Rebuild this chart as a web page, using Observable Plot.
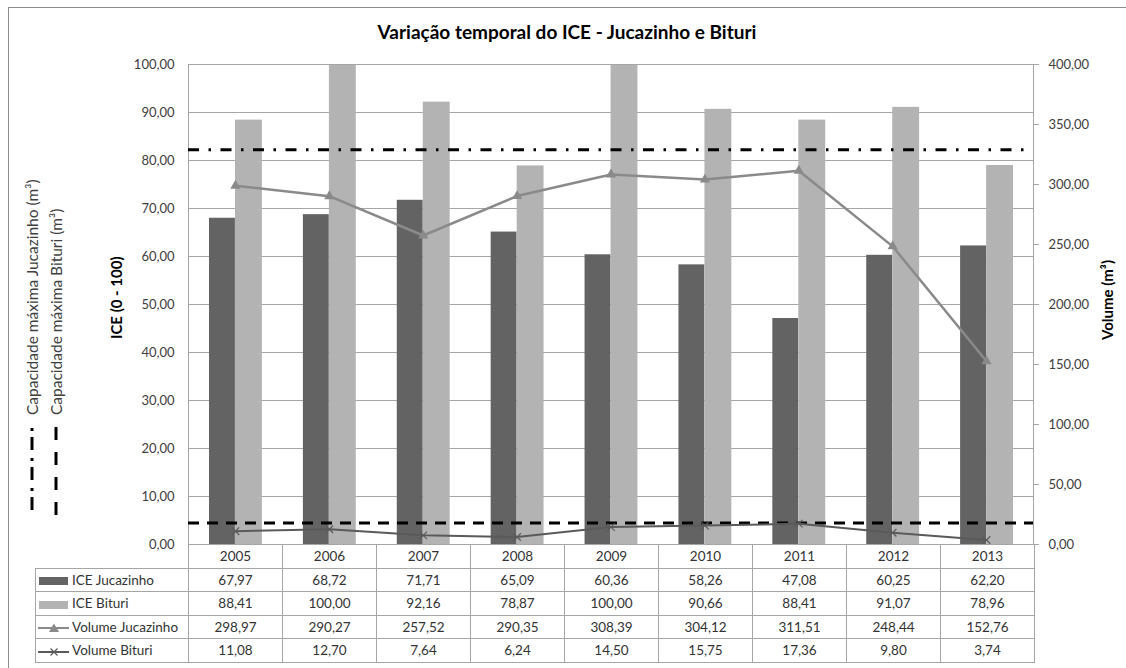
<!DOCTYPE html>
<html><head><meta charset="utf-8">
<script src="https://cdn.jsdelivr.net/npm/d3@7"></script>
<script src="https://cdn.jsdelivr.net/npm/@observablehq/plot@0.6"></script>
<style>
body{margin:0;background:#fff;font-family:Lato,sans-serif;color:#404040}
#wrap{position:relative;width:1126px;height:668px;overflow:hidden;background:#fff}
#frame{position:absolute;left:8px;top:7px;width:1200px;height:800px;border-top:1px solid #8c8c8c;border-left:1px solid #8c8c8c}
#chart{position:absolute;left:0;top:0}
#title{position:absolute;left:0;width:1134px;top:20px;text-align:center;font-weight:bold;font-size:19px;color:#000}
.rot{position:absolute;transform-origin:0 0;transform:rotate(-90deg);white-space:nowrap;display:flex;align-items:center}
.atitle{font-weight:bold;font-size:15px;color:#000;height:18px;line-height:18px}
.leg{font-size:15.5px;color:#404040;height:18px;line-height:18px}
#tbl{position:absolute;left:35px;top:544px;border-collapse:collapse;table-layout:fixed;font-size:13.5px;color:#333}
#tbl td{border:1px solid #a6a6a6;padding:0;height:22.5px;text-align:center;white-space:nowrap}
#tbl td.lab{text-align:left;padding-left:2px}
#tbl td.blank{border:none}
#tbl td.lab svg{vertical-align:middle;margin-right:3px}
</style></head><body>
<div id="wrap"><div id="frame"></div></div>
<script>
const years = ["2005","2006","2007","2008","2009","2010","2011","2012","2013"];
const iceJucazinho = [67.97,68.72,71.71,65.09,60.36,58.26,47.08,60.25,62.20];
const iceBituri = [88.41,100.00,92.16,78.87,100.00,90.66,88.41,91.07,78.96];
const volumeJucazinho = [298.97,290.27,257.52,290.35,308.39,304.12,311.51,248.44,152.76];
const volumeBituri = [11.08,12.70,7.64,6.24,14.50,15.75,17.36,9.80,3.74];
const capacidadeJucazinho = [329];
const capacidadeBituri = [18];
const iceTicks = [0,10,20,30,40,50,60,70,80,90,100];
const volumeTicks = [0,50,100,150,200,250,300,350,400];
const seriesNames = ["ICE Jucazinho","ICE Bituri","Volume Jucazinho","Volume Bituri"];

const locale = d3.formatLocale({decimal:",", thousands:".", grouping:[3], currency:["",""]});
const fmt = locale.format(".2f");
const volToIce = v => v / 4;

const rows = years.map((year, i) => ({year, iceJ: iceJucazinho[i], iceB: iceBituri[i], volJ: volumeJucazinho[i], volB: volumeBituri[i]}));

const C = {dark:"#636363", light:"#b3b3b3", volJ:"#8a8a8a", volB:"#5a5a5a", grid:"#a6a6a6"};

const chart = Plot.plot({
  width: 1126, height: 560,
  marginLeft: 188, marginRight: 93, marginTop: 64, marginBottom: 16,
  style: {fontFamily: "Lato, sans-serif", fontSize: "13px", color: "#404040", background: "transparent"},
  x: {type: "band", domain: years, padding: 0, round: false, axis: null},
  y: {domain: [0, 100], axis: null},
  marks: [
    Plot.gridY(iceTicks, {stroke: C.grid, strokeOpacity: 1}),
    Plot.barY(rows, {x: "year", y: "iceJ", fill: C.dark, insetLeft: 21, insetRight: 47}),
    Plot.barY(rows, {x: "year", y: "iceB", fill: C.light, insetLeft: 47, insetRight: 20}),
    Plot.frame({stroke: C.grid}),
    Plot.axisY(iceTicks, {anchor: "left", tickSize: 0, tickPadding: 14, tickFormat: fmt, label: null}),
    Plot.axisY(volumeTicks, {y: volToIce, anchor: "right", tickSize: 5, tickPadding: 10, tickFormat: fmt, label: null, stroke: C.grid}),
    Plot.ruleY(capacidadeJucazinho, {y: volToIce, stroke: "#000", strokeWidth: 3, strokeDasharray: "11,9.5,2.5,9.5"}),
    Plot.ruleY(capacidadeBituri, {y: volToIce, stroke: "#000", strokeWidth: 3, strokeDasharray: "11,8"}),
    Plot.line(rows, {x: "year", y: d => volToIce(d.volJ), stroke: C.volJ, strokeWidth: 2.5}),
    Plot.dot(rows, {x: "year", y: d => volToIce(d.volJ), symbol: "triangle", r: 3.8, fill: C.volJ, stroke: "none"}),
    Plot.line(rows, {x: "year", y: d => volToIce(d.volB), stroke: C.volB, strokeWidth: 2}),
    Plot.dot(rows, {x: "year", y: d => volToIce(d.volB), symbol: "times", r: 3.5, stroke: C.volB, strokeWidth: 1.2})
  ]
});
chart.id = "chart";
const wrap = document.getElementById("wrap");
wrap.appendChild(chart);

const title = document.createElement("div");
title.id = "title";
title.textContent = "Variação temporal do ICE - Jucazinho e Bituri";
wrap.appendChild(title);

function rotated(html, cls, centerX, bottomY) {
  const d = document.createElement("div");
  d.className = "rot " + cls;
  d.innerHTML = html;
  d.style.left = (centerX - 9) + "px";
  d.style.top = bottomY + "px";
  wrap.appendChild(d);
  return d;
}
function rotatedCentered(text, cls, centerX, centerY) {
  const d = rotated(text, cls, centerX, 0);
  const w = d.getBoundingClientRect().height;
  d.style.top = (centerY + w / 2) + "px";
}
rotatedCentered("ICE (0 - 100)", "atitle", 116, 298);
rotatedCentered("Volume (m³)", "atitle", 1107, 300);

const keyJ = `<svg width="96" height="16" style="flex:none"><line x1="1" x2="86" y1="8" y2="8" stroke="#000" stroke-width="3" stroke-dasharray="13,6,3,8"/></svg>`;
const keyB = `<svg width="100" height="16" style="flex:none"><line x1="0" x2="90" y1="8" y2="8" stroke="#000" stroke-width="3" stroke-dasharray="13,12"/></svg>`;
rotated(keyJ + "<span>Capacidade máxima Jucazinho (m³)</span>", "leg", 32, 511);
rotated(keyB + "<span>Capacidade máxima Bituri (m³)</span>", "leg", 56, 515);

// data table
const icons = [
  `<svg width="31" height="10"><rect x="1" y="1" width="29" height="8" fill="${C.dark}"/></svg>`,
  `<svg width="31" height="10"><rect x="1" y="1" width="29" height="8" fill="${C.light}"/></svg>`,
  `<svg width="31" height="12"><line x1="0" x2="31" y1="6" y2="6" stroke="${C.volJ}" stroke-width="2"/><path d="M16,1.5 L21,10 L11,10 Z" fill="${C.volJ}"/></svg>`,
  `<svg width="31" height="12"><line x1="0" x2="31" y1="6" y2="6" stroke="${C.volB}" stroke-width="2"/><path d="M12.5,2.5 L19.5,9.5 M19.5,2.5 L12.5,9.5" stroke="${C.volB}" stroke-width="1.2"/></svg>`
];
const seriesValues = [iceJucazinho, iceBituri, volumeJucazinho, volumeBituri];
const tbl = document.createElement("table");
tbl.id = "tbl";
let h = `<colgroup><col style="width:153px">${years.map(() => '<col style="width:94px">').join("")}</colgroup>`;
h += `<tr><td class="blank"></td>${years.map(y => `<td>${y}</td>`).join("")}</tr>`;
seriesNames.forEach((name, k) => {
  h += `<tr><td class="lab">${icons[k]}${name}</td>${seriesValues[k].map(v => `<td>${fmt(v)}</td>`).join("")}</tr>`;
});
tbl.innerHTML = h;
wrap.appendChild(tbl);
</script>
</body></html>
